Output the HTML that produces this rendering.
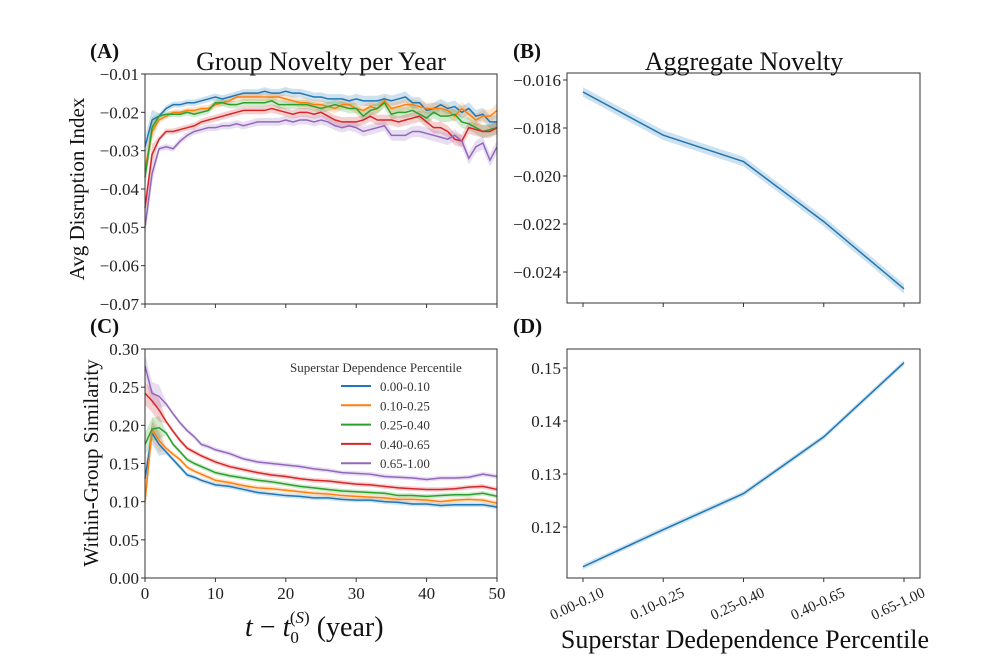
<!DOCTYPE html>
<html><head><meta charset="utf-8"><style>
html,body{margin:0;padding:0;background:#fff;}
svg{display:block;font-family:"Liberation Serif",serif;}
</style></head><body>
<svg id="fig" width="1000" height="664" viewBox="0 0 1000 664" xmlns="http://www.w3.org/2000/svg"></svg>
<script>
// ---- Panel A data (Avg Disruption Index per year) ----
const yearsA = Array.from({length:51},(_,i)=>i);
const seriesNames = ["0.00-0.10","0.10-0.25","0.25-0.40","0.40-0.65","0.65-1.00"];
const seriesColors = ["#1f77b4","#ff7f0e","#2ca02c","#d62728","#9467bd"];
const aBlue = [-0.029,-0.022,-0.021,-0.019,-0.018,-0.018,-0.0175,-0.0175,-0.017,-0.0165,-0.016,-0.0165,-0.016,-0.0155,-0.015,-0.015,-0.015,-0.0145,-0.015,-0.015,-0.0145,-0.015,-0.015,-0.0155,-0.016,-0.016,-0.0165,-0.0165,-0.0165,-0.017,-0.0165,-0.017,-0.017,-0.017,-0.0165,-0.017,-0.0165,-0.016,-0.0175,-0.0175,-0.0195,-0.019,-0.018,-0.019,-0.0185,-0.020,-0.019,-0.021,-0.0205,-0.0225,-0.0225];
const aOrange = [-0.035,-0.025,-0.022,-0.021,-0.020,-0.020,-0.0195,-0.0195,-0.019,-0.019,-0.018,-0.0175,-0.017,-0.016,-0.016,-0.016,-0.016,-0.016,-0.016,-0.016,-0.0165,-0.017,-0.0175,-0.0175,-0.018,-0.018,-0.0185,-0.019,-0.018,-0.018,-0.019,-0.0195,-0.0185,-0.019,-0.017,-0.019,-0.0185,-0.018,-0.018,-0.0185,-0.019,-0.019,-0.019,-0.0195,-0.021,-0.019,-0.0205,-0.022,-0.021,-0.021,-0.0195];
const aGreen = [-0.037,-0.024,-0.021,-0.0205,-0.0205,-0.0205,-0.020,-0.0205,-0.020,-0.0195,-0.0175,-0.0175,-0.018,-0.018,-0.0175,-0.0175,-0.0175,-0.0175,-0.017,-0.018,-0.018,-0.018,-0.018,-0.018,-0.0185,-0.019,-0.0185,-0.018,-0.0185,-0.019,-0.019,-0.021,-0.0195,-0.019,-0.0175,-0.0205,-0.020,-0.020,-0.0195,-0.0205,-0.0215,-0.020,-0.021,-0.021,-0.0205,-0.0225,-0.023,-0.024,-0.025,-0.0245,-0.024];
const aRed = [-0.045,-0.031,-0.027,-0.025,-0.025,-0.0245,-0.024,-0.0235,-0.0225,-0.022,-0.0215,-0.021,-0.0205,-0.020,-0.0195,-0.0195,-0.0195,-0.0195,-0.019,-0.0195,-0.020,-0.0205,-0.020,-0.020,-0.0205,-0.020,-0.021,-0.022,-0.0225,-0.0225,-0.0225,-0.022,-0.021,-0.022,-0.022,-0.022,-0.0225,-0.022,-0.0215,-0.021,-0.0225,-0.024,-0.024,-0.025,-0.027,-0.0275,-0.024,-0.0245,-0.025,-0.025,-0.024];
const aPurple = [-0.050,-0.036,-0.0295,-0.029,-0.0295,-0.0275,-0.026,-0.025,-0.0245,-0.024,-0.024,-0.0235,-0.0235,-0.023,-0.0235,-0.023,-0.0225,-0.0225,-0.0225,-0.0225,-0.022,-0.0225,-0.022,-0.022,-0.0225,-0.022,-0.0225,-0.0235,-0.024,-0.0235,-0.024,-0.025,-0.0245,-0.024,-0.0235,-0.026,-0.026,-0.026,-0.025,-0.025,-0.0255,-0.026,-0.0265,-0.027,-0.026,-0.0275,-0.032,-0.029,-0.028,-0.0325,-0.029];
const aTicks = [-0.01,-0.02,-0.03,-0.04,-0.05,-0.06,-0.07];
const aTickLabels = ["\u22120.01","\u22120.02","\u22120.03","\u22120.04","\u22120.05","\u22120.06","\u22120.07"];
// ---- Panel C data (Within-group similarity) ----
const yearsC = [0,1,2,3,4,5,6,7,8,9,10,12,14,16,18,20,22,24,26,28,30,32,34,36,38,40,42,44,46,48,50];
const cBlue = [0.13,0.19,0.175,0.165,0.155,0.145,0.135,0.132,0.128,0.125,0.122,0.12,0.116,0.112,0.110,0.108,0.107,0.105,0.105,0.103,0.102,0.102,0.100,0.099,0.097,0.097,0.095,0.096,0.096,0.096,0.093];
const cOrange = [0.10,0.195,0.18,0.17,0.162,0.155,0.145,0.14,0.136,0.132,0.128,0.125,0.121,0.118,0.117,0.115,0.113,0.111,0.11,0.108,0.107,0.106,0.105,0.103,0.103,0.102,0.100,0.102,0.103,0.102,0.098];
const cGreen = [0.175,0.195,0.197,0.19,0.175,0.165,0.155,0.15,0.146,0.142,0.138,0.134,0.131,0.128,0.126,0.123,0.12,0.118,0.116,0.114,0.113,0.112,0.111,0.108,0.108,0.107,0.108,0.109,0.109,0.111,0.107];
const cRed = [0.242,0.232,0.22,0.205,0.192,0.18,0.17,0.165,0.16,0.156,0.152,0.146,0.142,0.138,0.135,0.133,0.13,0.128,0.127,0.125,0.123,0.122,0.12,0.118,0.117,0.116,0.116,0.117,0.119,0.12,0.116];
const cPurple = [0.278,0.242,0.238,0.228,0.215,0.203,0.193,0.185,0.175,0.172,0.168,0.163,0.156,0.152,0.15,0.148,0.146,0.143,0.141,0.138,0.137,0.136,0.133,0.132,0.131,0.129,0.131,0.131,0.132,0.136,0.133];
const cTicks = [0,0.05,0.10,0.15,0.20,0.25,0.30];
const cTickLabels = ["0.00","0.05","0.10","0.15","0.20","0.25","0.30"];
const xTicks = [0,10,20,30,40,50];
const xTickLabels = ["0","10","20","30","40","50"];
// ---- Panels B & D ----
const categories = ["0.00-0.10","0.10-0.25","0.25-0.40","0.40-0.65","0.65-1.00"];
const bValues = [-0.0165,-0.0183,-0.0194,-0.0219,-0.0247];
const bTicks = [-0.016,-0.018,-0.020,-0.022,-0.024];
const bTickLabels = ["\u22120.016","\u22120.018","\u22120.020","\u22120.022","\u22120.024"];
const dValues = [0.1125,0.1195,0.1263,0.137,0.151];
const dTicks = [0.12,0.13,0.14,0.15];
const dTickLabels = ["0.12","0.13","0.14","0.15"];

const NS="http://www.w3.org/2000/svg";
const svg=document.getElementById('fig');
function mk(tag,attrs,parent){const e=document.createElementNS(NS,tag);for(const k in attrs)e.setAttribute(k,attrs[k]);(parent||svg).appendChild(e);return e;}
function txt(s,attrs,parent){const e=mk('text',attrs,parent);e.textContent=s;return e;}

// axis functions
const xA=v=>145+(v-0)*(497-145)/50;
const yA=v=>74+(-0.01-v)*(304-74)/0.06;
const yC=v=>578-v*(578-349)/0.30;
const xCat=i=>583+i*80.25;
const yB=v=>80+(-0.016-v)*(272-80)/0.008;
const yD=v=>368+(0.15-v)*(527-368)/0.03;

function frame(x0,y0,x1,y1,name){
  const r=mk('rect',{x:x0,y:y0,width:x1-x0,height:y1-y0,fill:'none',stroke:'#333','stroke-width':1});
  
  
}
function yTicks(vals,labels,fy,xl,name){
  const g=mk('g',{});
  
  
  vals.forEach((v,i)=>{const y=fy(v);
    mk('line',{x1:xl-4,x2:xl,y1:y,y2:y,stroke:'#333'},g);
    txt(labels[i],{x:xl-6,y:y+6,'text-anchor':'end','font-size':17,fill:'#222'},g);});
}
function band(xs,ys,fx,fy,hw,color,name){
  let up=xs.map((x,i)=>fx(x)+','+fy(ys[i]+hw(i))).join(' ');
  let dn=xs.map((x,i)=>fx(x)+','+fy(ys[i]-hw(i))).reverse().join(' ');
  const p=mk('polygon',{points:up+' '+dn,fill:color,'fill-opacity':0.22,stroke:'none'});
  
  
}
function line(xs,ys,fx,fy,color,name,w){
  const p=mk('polyline',{points:xs.map((x,i)=>fx(x)+','+fy(ys[i])).join(' '),fill:'none',stroke:color,'stroke-width':w||1.5});
  
  
}

// ---------- Panel A ----------
txt('(A)',{x:90,y:58,'font-size':21,'font-weight':'bold',fill:'#111'});
txt('Group Novelty per Year',{x:321,y:70,'text-anchor':'middle','font-size':26,fill:'#111'});
const aSeries=[aBlue,aOrange,aGreen,aRed,aPurple];
aSeries.forEach((s,k)=>band(yearsA,s,xA,yA,i=>0.0007+0.0010*(i/50)+(i<2?0.002:0),seriesColors[k],'band-a-'+k));
aSeries.forEach((s,k)=>line(yearsA,s,xA,yA,seriesColors[k],'line-a-'+seriesNames[k]));
frame(145,74,497,304,'panel-a-axes');
yTicks(aTicks,aTickLabels,yA,145,'panel-a-y-ticks');
xTicks.forEach(v=>mk('line',{x1:xA(v),x2:xA(v),y1:304,y2:308,stroke:'#333'}));
const ya=txt('Avg Disruption Index',{x:84,y:189,'text-anchor':'middle','font-size':21,fill:'#111',transform:'rotate(-90 84 189)'});


// ---------- Panel C ----------
txt('(C)',{x:90,y:333,'font-size':21,'font-weight':'bold',fill:'#111'});
const cSeries=[cBlue,cOrange,cGreen,cRed,cPurple];
cSeries.forEach((s,k)=>band(yearsC,s,xA,yC,i=>0.003+(i<3?0.012:0),seriesColors[k],'band-c-'+k));
cSeries.forEach((s,k)=>line(yearsC,s,xA,yC,seriesColors[k],'line-c-'+seriesNames[k]));
frame(145,349,497,578,'panel-c-axes');
yTicks(cTicks,cTickLabels,yC,145,'panel-c-y-ticks');
xTicks.forEach((v,i)=>{mk('line',{x1:xA(v),x2:xA(v),y1:578,y2:582,stroke:'#333'});
  txt(xTickLabels[i],{x:xA(v),y:599,'text-anchor':'middle','font-size':17,fill:'#222'});});
const yc=txt('Within-Group Similarity',{x:98,y:463,'text-anchor':'middle','font-size':21,fill:'#111',transform:'rotate(-90 98 463)'});

// legend
const lg=mk('g',{});


txt('Superstar Dependence Percentile',{x:290,y:372,'font-size':13,fill:'#333'},lg);
seriesNames.forEach((n,k)=>{const y=386+k*19.3;
  const e=mk('g',{},lg);
  
  
  mk('line',{x1:341,x2:371,y1:y,y2:y,stroke:seriesColors[k],'stroke-width':2},e);
  txt(n,{x:380,y:y+5,'font-size':13,fill:'#333'},e);});
// x label
const xl=txt('',{x:245,y:636,'font-size':28,fill:'#111'});

xl.innerHTML='<tspan font-style="italic">t</tspan> \u2212 <tspan font-style="italic">t</tspan><tspan font-size="17" dy="7">0</tspan><tspan font-size="17" dx="-9" dy="-20">(<tspan font-style="italic">S</tspan>)</tspan><tspan dy="13"> (year)</tspan>';

// ---------- Panel B ----------
txt('(B)',{x:513,y:58,'font-size':21,'font-weight':'bold',fill:'#111'});
txt('Aggregate Novelty',{x:744,y:70,'text-anchor':'middle','font-size':26,fill:'#111'});
const ci=categories.map((c,i)=>i);
band(ci,bValues,xCat,yB,()=>0.0002,'#1f77b4','band-b');
line(ci,bValues,xCat,yB,'#1f77b4','line-b');
frame(567,73,920,303,'panel-b-axes');
yTicks(bTicks,bTickLabels,yB,567,'panel-b-y-ticks');
ci.forEach(i=>mk('line',{x1:xCat(i),x2:xCat(i),y1:303,y2:307,stroke:'#333'}));

// ---------- Panel D ----------
txt('(D)',{x:513,y:333,'font-size':21,'font-weight':'bold',fill:'#111'});
band(ci,dValues,xCat,yD,()=>0.0005,'#1f77b4','band-d');
line(ci,dValues,xCat,yD,'#1f77b4','line-d');
frame(567,349,920,578,'panel-d-axes');
yTicks(dTicks,dTickLabels,yD,567,'panel-d-y-ticks');
ci.forEach(i=>{const x=xCat(i);mk('line',{x1:x,x2:x,y1:578,y2:582,stroke:'#333'});
  const t=txt(categories[i],{x:x+22,y:596,'text-anchor':'end','font-size':15,fill:'#222',transform:'rotate(-25 '+(x+22)+' 596)'});
  
  });
const xd=txt('Superstar Dedependence Percentile',{x:745,y:648,'text-anchor':'middle','font-size':26,fill:'#111'});

</script>
</body></html>
